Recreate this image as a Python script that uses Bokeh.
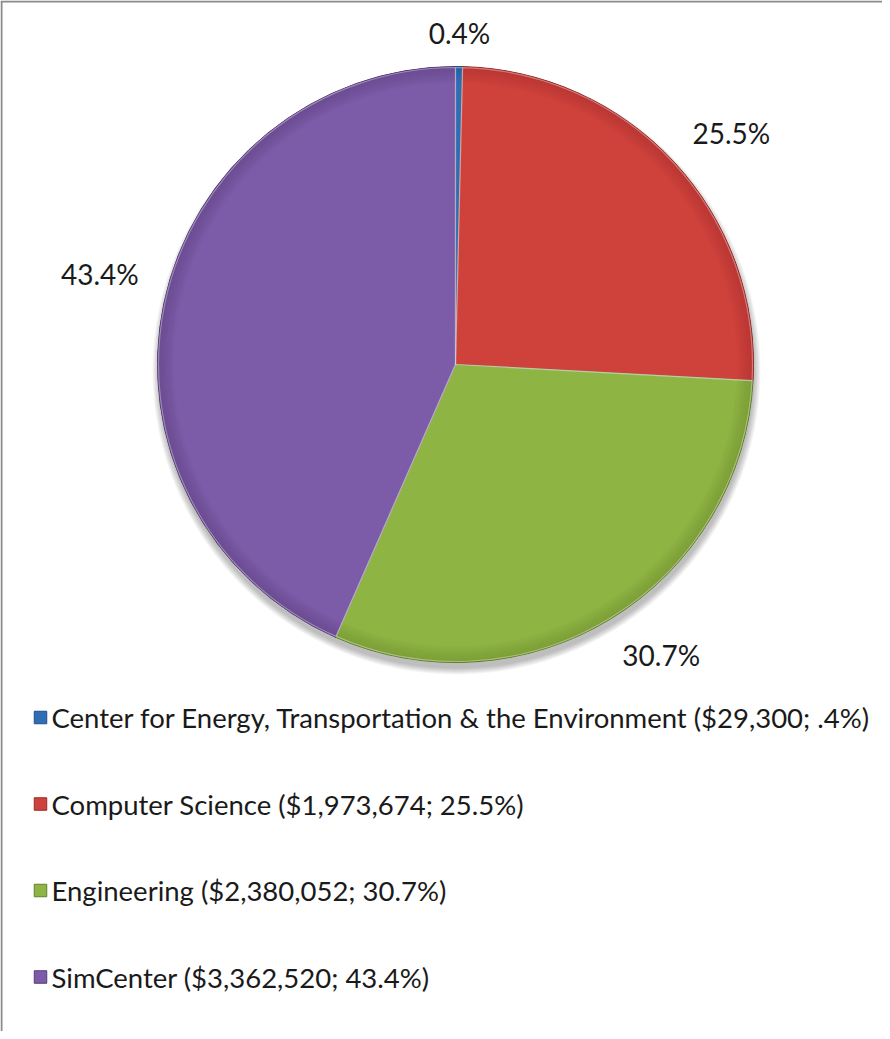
import numpy as np
from bokeh.plotting import figure
from bokeh.models import Range1d, ColumnDataSource
from bokeh.core.properties import value
from bokeh.embed import file_html
from bokeh.resources import INLINE

# ---- data ----
categories = ["Center for Energy, Transportation & the Environment",
              "Computer Science", "Engineering", "SimCenter"]
amounts = [29300, 1973674, 2380052, 3362520]
pct_labels = ["0.4%", "25.5%", "30.7%", "43.4%"]
legend_pct = [".4%", "25.5%", "30.7%", "43.4%"]

# ---- style ----
colors = ["#2F6EB5", "#CF423C", "#8EB443", "#7C5BA8"]
edge_colors = ["#1F4F8A", "#962C28", "#627F2B", "#553C78"]
FONT = "Lato"

X0, Y0 = 8, 8          # page offset of the figure
W, H = 882, 1031
PAGE_BOTTOM = Y0 + H


def PY(py):
    return PAGE_BOTTOM - py


p = figure(width=W, height=H, output_backend="svg", toolbar_location=None,
           x_range=Range1d(X0, X0 + W), y_range=Range1d(0, H),
           min_border=0, outline_line_color=None)
p.axis.visible = False
p.grid.visible = False
p.background_fill_color = "white"
p.border_fill_color = "white"

# frame lines (top and left)
p.line(x=[X0, X0 + W], y=[PY(9), PY(9)], line_color="#8A8A8A", line_width=2)
p.line(x=[9, 9], y=[PY(9), 0], line_color="#8A8A8A", line_width=2)

cx, cy, R = 463, PY(372), 298

vals = np.array(amounts, dtype=float)
frac = vals / vals.sum()
cum = np.cumsum(frac)
start = np.pi / 2 - 2 * np.pi * (cum - frac)
end = np.pi / 2 - 2 * np.pi * cum
mid = (cum - frac / 2) * 2 * np.pi  # clockwise from top

src = ColumnDataSource(dict(start=start, end=end, color=colors, edge=edge_colors))

# soft shadow
for k in range(7):
    p.circle(x=cx + 1, y=cy - 6, radius=R + k, radius_units="data",
             fill_color="black", fill_alpha=0.04, line_alpha=0)

p.wedge(x=cx, y=cy, radius=R, start_angle="start", end_angle="end",
        direction="clock", fill_color="color", line_color="edge", line_width=1,
        source=src)

# edge darkening (bevel)
for k in range(6):
    p.annular_wedge(x=cx, y=cy, inner_radius=R - 16 + 2.6 * k, outer_radius=R,
                    start_angle="start", end_angle="end", direction="clock",
                    fill_color="edge", fill_alpha=0.07, line_alpha=0, source=src)

# light separator highlights
p.wedge(x=cx, y=cy, radius=R - 1, start_angle="start", end_angle="end",
        direction="clock", fill_alpha=0, line_color="white", line_alpha=0.35,
        line_width=1.2, source=src)

# percentage labels (placed radially outside each slice)
label_dist = [332, 360, 356, 367]
label_shift_deg = [0.0, 2.8, -3.7, 2.4]
ang = mid + np.radians(label_shift_deg)
lx = cx + np.array(label_dist) * np.sin(ang)
ly = cy + np.array(label_dist) * np.cos(ang)
p.text(x=lx, y=ly, text=pct_labels, text_font=value(FONT),
       text_font_size="28px", text_color="#1a1a1a",
       text_align="center", text_baseline="middle")

# legend
legend_labels = [f"{c} (${a:,}; {lp})" for c, a, lp in zip(categories, amounts, legend_pct)]
idx = np.arange(len(categories))
leg_y = PY(725) - idx * 86.5
p.rect(x=[48] * len(categories), y=leg_y, width=12.5, height=12.5,
       fill_color=colors, line_color=edge_colors, line_width=1)
p.text(x=[59] * len(categories), y=leg_y, text=legend_labels,
       text_font=value(FONT), text_font_size="27.5px", text_color="#1a1a1a",
       text_align="left", text_baseline="middle")

open("out.html", "w").write(file_html(p, INLINE))
